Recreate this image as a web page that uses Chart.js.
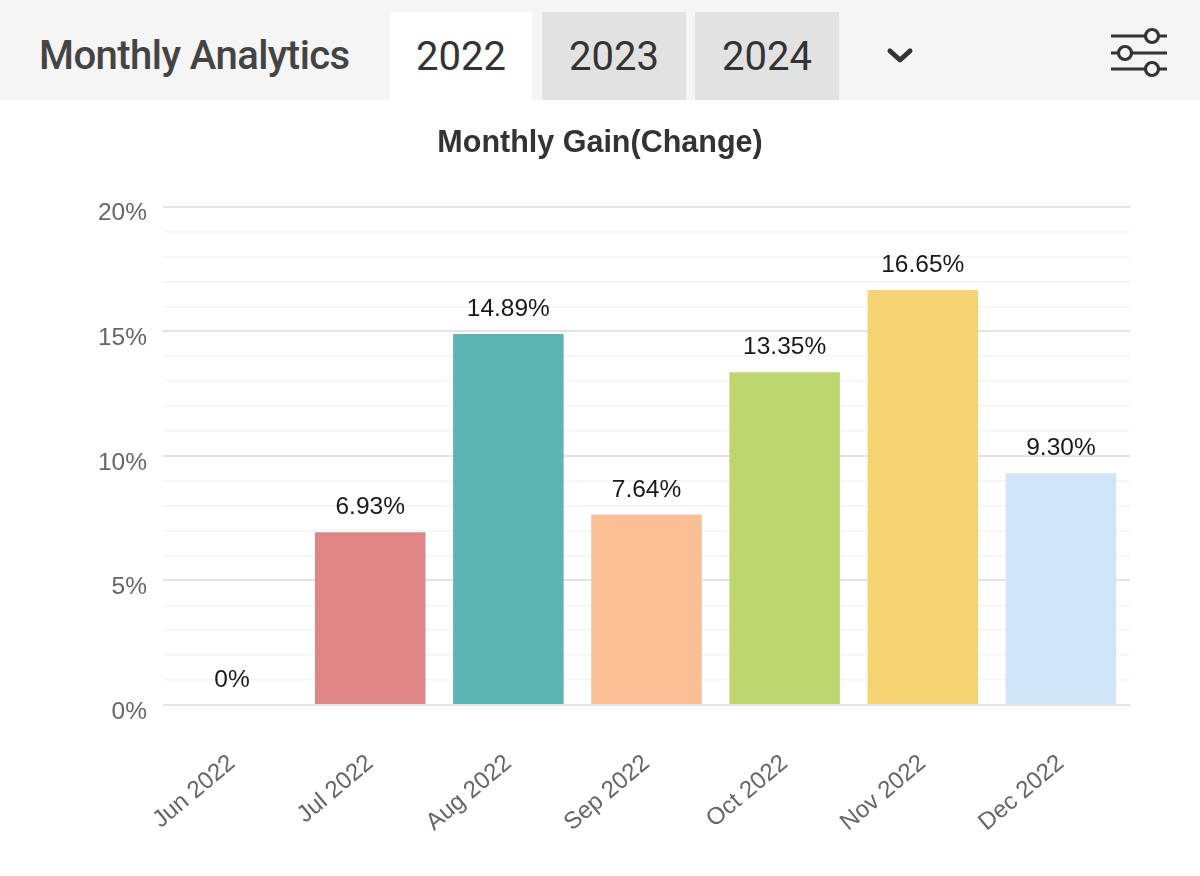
<!DOCTYPE html>
<html>
<head>
<meta charset="utf-8">
<script src="https://cdn.jsdelivr.net/npm/chart.js@4.4.1/dist/chart.umd.min.js"></script>
<style>
  html, body { margin: 0; padding: 0; background: #ffffff; width: 1200px; height: 876px; overflow: hidden; }
  #header { position: absolute; left: 0; top: 0; width: 1200px; height: 100px; background: #f5f5f5; font-family: Roboto, "Liberation Sans", sans-serif; }
  #title { position: absolute; left: 39px; top: 30px; font-size: 40px; font-weight: 500; color: #444; line-height: 52px; letter-spacing: -0.55px; white-space: nowrap; }
  .tab { position: absolute; top: 12px; height: 88px; font-size: 40px; color: #333; text-align: center; line-height: 89px; }
  #t22 { left: 390px; width: 142px; background: #ffffff; }
  #t23 { left: 542px; width: 144px; background: #e2e2e2; }
  #t24 { left: 695px; width: 144px; background: #e2e2e2; }
  #chev { position: absolute; left: 886px; top: 45px; }
  #filt { position: absolute; left: 1108px; top: 26px; }
  #wrap { position: absolute; left: 0; top: 100px; width: 1200px; height: 776px; }
</style>
</head>
<body>
<div id="header">
  <div id="title">Monthly Analytics</div>
  <div class="tab" id="t22">2022</div>
  <div class="tab" id="t23">2023</div>
  <div class="tab" id="t24">2024</div>
  <svg id="chev" width="28" height="22" viewBox="0 0 28 22"><polyline points="4,6 14,15 24,6" fill="none" stroke="#333" stroke-width="5" stroke-linecap="round" stroke-linejoin="round"/></svg>
  <svg id="filt" width="62" height="56" viewBox="0 0 62 56">
    <g stroke="#333" stroke-width="3.2" fill="#f5f5f5">
      <line x1="3" y1="10" x2="59" y2="10"/>
      <line x1="3" y1="27" x2="59" y2="27"/>
      <line x1="3" y1="43" x2="59" y2="43"/>
      <circle cx="44" cy="10" r="6.5"/>
      <circle cx="17" cy="27" r="6.5"/>
      <circle cx="44" cy="43" r="6.5"/>
    </g>
  </svg>
</div>
<div id="wrap"><canvas id="c" width="1200" height="776"></canvas></div>
<script>
const categories = ["Jun 2022", "Jul 2022", "Aug 2022", "Sep 2022", "Oct 2022", "Nov 2022", "Dec 2022"];
const gains = [0, 6.93, 14.89, 7.64, 13.35, 16.65, 9.30];
const valueLabels = ["0%", "6.93%", "14.89%", "7.64%", "13.35%", "16.65%", "9.30%"];
const barColors = ["#9ad0f5", "#e08585", "#5cb4b3", "#fbbe95", "#bdd66f", "#f6d372", "#d0e6f8"];
const yTickLabels = {0: "0%", 5: "5%", 10: "10%", 15: "15%", 20: "20%"};

const valueLabelPlugin = {
  id: 'valueLabels',
  afterDatasetsDraw(chart) {
    const ctx = chart.ctx;
    const meta = chart.getDatasetMeta(0);
    ctx.save();
    ctx.font = '24.5px "Liberation Sans", Arial, sans-serif';
    ctx.fillStyle = '#1a1a1a';
    ctx.textAlign = 'center';
    ctx.textBaseline = 'alphabetic';
    meta.data.forEach((el, i) => {
      ctx.fillText(valueLabels[i], el.x, el.y - 18);
    });
    ctx.restore();
  }
};

new Chart(document.getElementById('c'), {
  type: 'bar',
  data: {
    labels: categories,
    datasets: [{
      data: gains,
      backgroundColor: barColors,
      borderWidth: 0,
      barPercentage: 1.0,
      categoryPercentage: 0.8
    }]
  },
  options: {
    responsive: false,
    animation: false,
    devicePixelRatio: 1,
    layout: { padding: { left: 70, right: 70, top: 0, bottom: 18 } },
    plugins: {
      legend: { display: false },
      tooltip: { enabled: false },
      title: {
        display: true,
        text: 'Monthly Gain(Change)',
        color: '#333',
        font: { family: '"Liberation Sans", Arial, sans-serif', size: 30.5, weight: 'bold' },
        padding: { top: 25, bottom: 45 }
      }
    },
    scales: {
      y: {
        min: 0,
        max: 20,
        afterFit(scale) { scale.width = 93; },
        border: { display: false },
        grid: {
          drawTicks: false,
          color: (c) => (c.tick && c.tick.value % 5 === 0) ? '#e3e3e3' : '#f4f4f4',
          lineWidth: (c) => (c.tick && c.tick.value % 5 === 0) ? 2 : 1.5
        },
        ticks: {
          stepSize: 1,
          autoSkip: false,
          padding: 16,
          labelOffset: 7,
          color: '#666',
          font: { family: '"Liberation Sans", Arial, sans-serif', size: 24.5 },
          callback: (v) => yTickLabels[v] !== undefined ? yTickLabels[v] : ''
        }
      },
      x: {
        afterFit(scale) { scale.height = 153; },
        border: { display: false },
        grid: { display: false },
        ticks: {
          autoSkip: false,
          maxRotation: 40,
          minRotation: 40,
          padding: 36,
          color: '#666',
          font: { family: '"Liberation Sans", Arial, sans-serif', size: 24 }
        }
      }
    }
  },
  plugins: [valueLabelPlugin]
});
</script>
</body>
</html>
